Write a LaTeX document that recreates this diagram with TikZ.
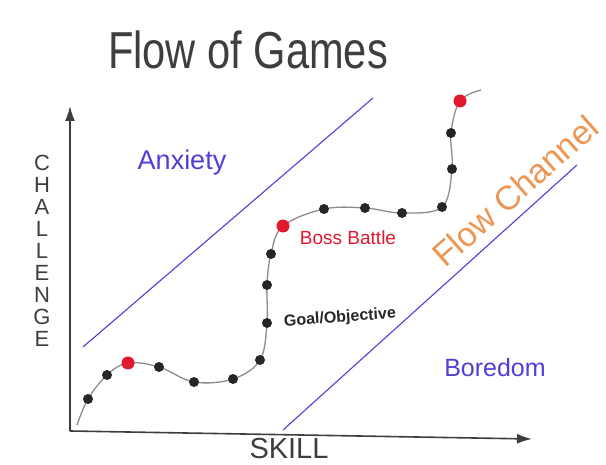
\documentclass[tikz,border=0pt]{standalone}
\usepackage{fontspec}
\setmainfont{Liberation Sans}
\usetikzlibrary{arrows.meta}
\definecolor{inkgray}{RGB}{62,62,62}
\definecolor{zoneblue}{RGB}{80,62,214}
\definecolor{flowOrange}{RGB}{236,150,84}
\definecolor{bossred}{RGB}{226,24,44}
\definecolor{trackgray}{RGB}{140,140,140}
\begin{document}
\begin{tikzpicture}[x=1pt, y=-1pt,
		axis/.style = {line width=1.6pt, draw=inkgray, -{Latex[length=15pt, width=10pt]}},
		zone/.style = {line width=1.1pt, draw=zoneblue},
		track/.style = {line width=1.3pt, draw=trackgray},
		stepdot/.style = {circle, fill=black!85, inner sep=0pt, minimum size=10pt},
		bossdot/.style = {circle, fill=bossred, inner sep=0pt, minimum size=13pt},
	]
	\path[use as bounding box] (0,0) rectangle (606,465);
	% axes
	\coordinate (origin) at (70,431);
	\coordinate (ytip) at (70,106);
	\coordinate (xtip) at (532,439);
	\draw[axis] (origin) -- (ytip);
	\draw[axis] (origin) -- (xtip);
	\node[text=inkgray, font=\fontsize{22}{22}\selectfont, align=center] (challenge) at (42,251) {C\\H\\A\\L\\L\\E\\N\\G\\E};
	\node[text=inkgray, font=\fontsize{29}{29}\selectfont] (skill) at (289,449) {SKILL};
	\node[text=inkgray, font=\fontsize{52}{52}\selectfont, xscale=0.8] (title) at (248,50) {Flow of Games};
	% flow channel borders
	\coordinate (anxlow) at (83,347);
	\coordinate (anxhigh) at (373,98);
	\coordinate (borlow) at (283,430);
	\coordinate (borhigh) at (577,165);
	\draw[zone] (anxlow) -- (anxhigh);
	\draw[zone] (borlow) -- (borhigh);
	\node[text=zoneblue, font=\fontsize{27}{27}\selectfont] (anxiety) at (182,163) {Anxiety};
	\node[text=zoneblue, font=\fontsize{25}{25}\selectfont] (boredom) at (495,368) {Boredom};
	\node[text=flowOrange, font=\fontsize{34}{34}\selectfont, rotate=41.5] (flow) at (515,191) {Flow Channel};
	% game track
	\foreach \name/\pos in {c0/{77,425}, c1/{88,399}, c2/{107,375}, c3/{128,363}, c4/{159,367},
			c5/{194,382}, c6/{233,379}, c7/{260,360}, c8/{267,323}, c9/{267,285}, c10/{271,254},
			c11/{283,226}, c12/{324,209}, c13/{365,208}, c14/{402,213}, c15/{442,207},
			c16/{452,169}, c17/{451,133}, c18/{460,101}, c19/{481,90}}
		\coordinate (\name) at (\pos);
	\draw[track] plot[smooth, tension=0.6] coordinates {(c0) (c1) (c2) (c3) (c4) (c5) (c6) (c7) (c8) (c9)
			(c10) (c11) (c12) (c13) (c14) (c15) (c16) (c17) (c18) (c19)};
	\foreach \n in {1,2,4,5,6,7,8,9,10,12,13,14,15,16,17}
		\node[stepdot] (step\n) at (c\n) {};
	\foreach \n in {3,11,18}
		\node[bossdot] (boss\n) at (c\n) {};
	\node[text=bossred, font=\fontsize{19}{19}\selectfont] (bossbattle) at (348,238) {Boss Battle};
	\node[text=black!85, font=\bfseries\fontsize{16}{16}\selectfont, rotate=4] (goal) at (340,318) {Goal/Objective};
\end{tikzpicture}
\end{document}
